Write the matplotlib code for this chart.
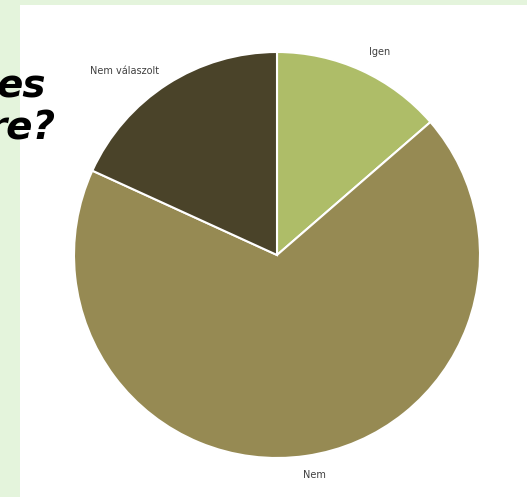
import matplotlib.pyplot as plt
from matplotlib.patches import Rectangle

# survey answers
labels = ["Igen", "Nem", "Nem válaszolt"]
counts = [6, 30, 8]
colors = ["#aebd68", "#968a53", "#4a4329"]

W, H = 527, 497
fig = plt.figure(figsize=(W / 100, H / 100), dpi=100)
fig.patch.set_facecolor("#e4f4dc")

ax = fig.add_axes([0, 0, 1, 1])

# white slide area
ax.add_patch(Rectangle((20, 0), W - 20, H - 5, facecolor="white", edgecolor="none", zorder=0))

cx, cy, r = 277, H - 255, 203
wedges, _ = ax.pie(
    counts, colors=colors,
    startangle=90, counterclock=False,
    center=(cx, cy), radius=r,
    wedgeprops=dict(edgecolor="white", linewidth=1.5),
    frame=True,
)

# category names sit outside the slices, like the office chart did
label_offsets = {"Igen": (103, 203), "Nem": (37, -220), "Nem válaszolt": (-152, 184)}
for name in labels:
    dx, dy = label_offsets[name]
    ax.text(cx + dx, cy + dy, name, ha="center", va="center",
            fontsize=7, color="#404040")

ax.set_xlim(0, W)
ax.set_ylim(0, H)
ax.set_aspect("equal")
ax.axis("off")

# question text spilling in from the left
ax.text(46, H - 98, "es", ha="right", va="baseline", fontsize=28,
        fontweight="bold", fontstyle="italic", color="black", zorder=5)
ax.text(56, H - 140, "re?", ha="right", va="baseline", fontsize=28,
        fontweight="bold", fontstyle="italic", color="black", zorder=5)

fig.savefig("out.png", dpi=100, facecolor=fig.get_facecolor())
